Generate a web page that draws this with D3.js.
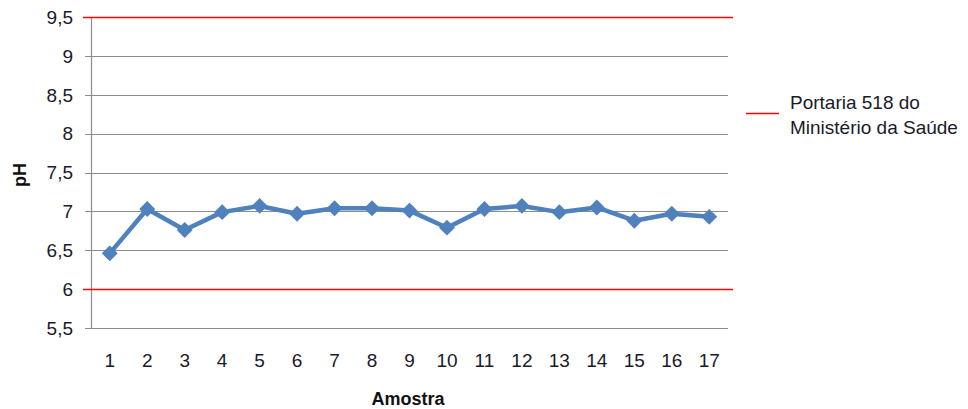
<!DOCTYPE html>
<html>
<head>
<meta charset="utf-8">
<script src="https://cdn.jsdelivr.net/npm/d3@7"></script>
<style>
  body { margin: 0; background: #fff; }
  svg { display: block; font-family: "Liberation Sans", Arial, sans-serif; }
</style>
</head>
<body>
<svg id="chart" width="968" height="409"></svg>
<script>
// Sample numbers (Amostra) and measured pH
const samples = [1, 2, 3, 4, 5, 6, 7, 8, 9, 10, 11, 12, 13, 14, 15, 16, 17];
const phValues = [6.46, 7.03, 6.76, 6.99, 7.07, 6.97, 7.04, 7.04, 7.01, 6.79, 7.03, 7.07, 6.99, 7.05, 6.88, 6.97, 6.93];
// Limits from Portaria 518 do Ministério da Saúde
const limits = [6, 9.5];
const yTicks = [5.5, 6, 6.5, 7, 7.5, 8, 8.5, 9, 9.5];
const legendLines = ["Portaria 518 do", "Ministério da Saúde"];

const svg = d3.select("#chart");
const plot = { left: 91, right: 728, top: 17, bottom: 328 };

const x = d3.scaleBand().domain(samples).range([plot.left, plot.right]);
const y = d3.scaleLinear().domain([5.5, 9.5]).range([plot.bottom, plot.top]);
const fmt = v => String(v).replace(".", ",");

// horizontal gridlines
svg.append("g").selectAll("line")
  .data(yTicks.filter(v => !limits.includes(v)))
  .join("line")
  .attr("x1", plot.left - 6).attr("x2", plot.right)
  .attr("y1", d => Math.round(y(d)) + 0.5).attr("y2", d => Math.round(y(d)) + 0.5)
  .attr("stroke", "#8c8c8c").attr("stroke-width", 1.2);

// y axis line
svg.append("line")
  .attr("x1", plot.left + 0.5).attr("x2", plot.left + 0.5)
  .attr("y1", plot.top).attr("y2", plot.bottom)
  .attr("stroke", "#8c8c8c").attr("stroke-width", 1.2);

// y tick labels
svg.append("g").selectAll("text")
  .data(yTicks)
  .join("text")
  .attr("x", 73).attr("y", d => y(d))
  .attr("dy", "0.36em")
  .attr("text-anchor", "end")
  .attr("font-size", 19)
  .attr("fill", "#1a1a2a")
  .text(fmt);

// x tick labels
svg.append("g").selectAll("text")
  .data(samples)
  .join("text")
  .attr("x", d => x(d) + x.bandwidth() / 2)
  .attr("y", 360)
  .attr("dy", "0.36em")
  .attr("text-anchor", "middle")
  .attr("font-size", 19)
  .attr("fill", "#1a1a2a")
  .text(d => d);

// limit lines
svg.append("g").selectAll("line")
  .data(limits)
  .join("line")
  .attr("x1", plot.left - 8).attr("x2", plot.right + 5)
  .attr("y1", d => Math.round(y(d)) + 0.5).attr("y2", d => Math.round(y(d)) + 0.5)
  .attr("stroke", "#ff0000").attr("stroke-width", 1.3);

// pH series
const cx = d => x(d) + x.bandwidth() / 2;
const pts = samples.map((s, i) => [cx(s), y(phValues[i])]);
svg.append("path")
  .attr("d", d3.line()(pts))
  .attr("fill", "none")
  .attr("stroke", "#4f81bd")
  .attr("stroke-width", 4.5)
  .attr("stroke-linejoin", "round");

svg.append("g").selectAll("path")
  .data(pts)
  .join("path")
  .attr("transform", d => `translate(${d[0]},${d[1]})`)
  .attr("d", d3.symbol(d3.symbolDiamond2, 160)())
  .attr("fill", "#4f81bd");

// axis titles
svg.append("text")
  .attr("x", 408).attr("y", 399)
  .attr("dy", "0.36em")
  .attr("text-anchor", "middle")
  .attr("font-size", 18).attr("font-weight", "bold")
  .attr("fill", "#111")
  .text("Amostra");

svg.append("text")
  .attr("transform", "translate(20,175) rotate(-90)")
  .attr("dy", "0.36em")
  .attr("text-anchor", "middle")
  .attr("font-size", 18).attr("font-weight", "bold")
  .attr("fill", "#111")
  .text("pH");

// legend
svg.append("line")
  .attr("x1", 746).attr("x2", 779)
  .attr("y1", 113.5).attr("y2", 113.5)
  .attr("stroke", "#ff0000").attr("stroke-width", 1.3);
svg.append("g").selectAll("text")
  .data(legendLines)
  .join("text")
  .attr("x", 790)
  .attr("y", (d, i) => 102 + i * 25)
  .attr("dy", "0.36em")
  .attr("font-size", 19)
  .attr("fill", "#1a1a2a")
  .text(d => d);
</script>
</body>
</html>
